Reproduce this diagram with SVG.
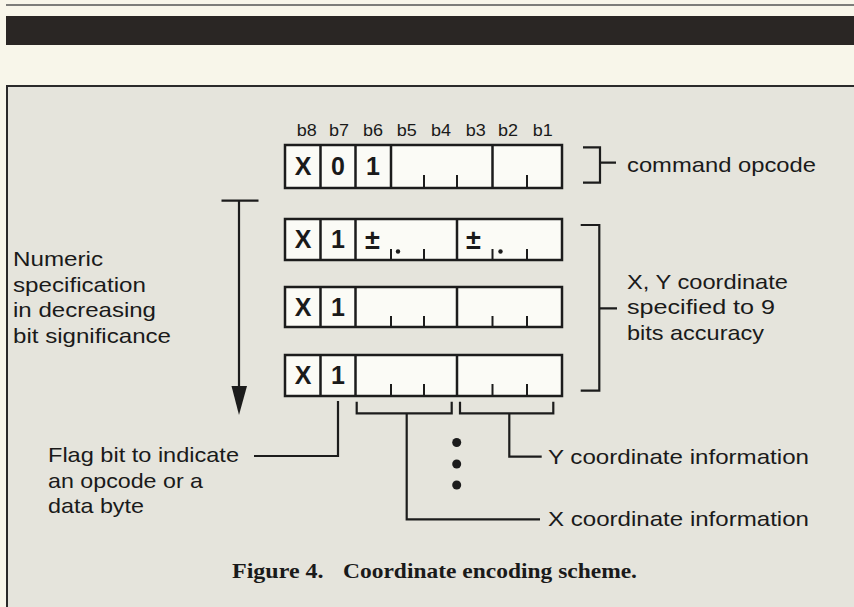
<svg xmlns="http://www.w3.org/2000/svg" width="854" height="607" viewBox="0 0 854 607">
<style>
.sans{font-family:"Liberation Sans",Arial,sans-serif;fill:#1a1a1a;}
.lbl{font-size:21px;}
.bit{font-size:16px;text-anchor:middle;}
.big{font-size:25px;font-weight:bold;text-anchor:middle;}
.pm{font-size:27px;font-weight:bold;}
.cap{font-family:"Liberation Serif","Times New Roman",serif;font-size:21px;font-weight:bold;fill:#1a1a1a;}
.box{fill:#fbfbf6;stroke:#1c1c1c;stroke-width:2.5;}
.div{stroke:#1c1c1c;stroke-width:2.5;fill:none;}
.tick{stroke:#1c1c1c;stroke-width:2;fill:none;}
.ln{stroke:#1c1c1c;stroke-width:2.2;fill:none;}
.head{fill:#1c1c1c;}
</style>
<rect x="0" y="0" width="854" height="607" fill="#f8f6ea"/>
<line x1="6" y1="5" x2="854" y2="5" stroke="#555" stroke-width="1.5"/>
<rect x="6" y="16" width="848" height="29" fill="#2a2624"/>
<rect x="6" y="85" width="848" height="522" fill="#e5e4dc"/>
<path d="M7,607 L7,86 L854,86" stroke="#2a2a2a" stroke-width="2" fill="none"/>

<g id="bit-labels" class="sans bit">
<text x="306.7" y="136" textLength="20" lengthAdjust="spacingAndGlyphs">b8</text>
<text x="339" y="136" textLength="20" lengthAdjust="spacingAndGlyphs">b7</text>
<text x="373" y="136" textLength="20" lengthAdjust="spacingAndGlyphs">b6</text>
<text x="406.7" y="136" textLength="20" lengthAdjust="spacingAndGlyphs">b5</text>
<text x="441" y="136" textLength="20" lengthAdjust="spacingAndGlyphs">b4</text>
<text x="475.7" y="136" textLength="20" lengthAdjust="spacingAndGlyphs">b3</text>
<text x="508" y="136" textLength="20" lengthAdjust="spacingAndGlyphs">b2</text>
<text x="542.7" y="136" textLength="20" lengthAdjust="spacingAndGlyphs">b1</text>
</g>

<g id="row-opcode">
<rect class="box" x="285" y="145" width="277" height="43"/>
<path class="div" d="M320.5,145V188M355.5,145V188M391,145V188M492.5,145V188"/>
<path class="tick" d="M424,175V188M457,175V188M527,175V188"/>
<text class="sans big" x="303" y="175">X</text>
<text class="sans big" x="338" y="175">0</text>
<text class="sans big" x="373" y="175">1</text>
</g>

<g id="row-data1">
<rect class="box" x="285" y="219" width="277" height="41"/>
<path class="div" d="M320.5,219V260M355.5,219V260M457,219V260"/>
<path class="tick" d="M391,249V260M424,249V260M492.5,249V260M527,249V260"/>
<text class="sans big" x="303" y="248">X</text>
<text class="sans big" x="338" y="248">1</text>
<text class="sans pm" x="365" y="249">±</text>
<text class="sans pm" x="466" y="249">±</text>
<circle cx="398" cy="251.5" r="2.2" fill="#1c1c1c"/>
<circle cx="500.5" cy="251.5" r="2.2" fill="#1c1c1c"/>
</g>

<g id="row-data2">
<rect class="box" x="285" y="287" width="277" height="40"/>
<path class="div" d="M320.5,287V327M355.5,287V327M457,287V327"/>
<path class="tick" d="M391,316V327M424,316V327M492.5,316V327M527,316V327"/>
<text class="sans big" x="303" y="316">X</text>
<text class="sans big" x="338" y="316">1</text>
</g>

<g id="row-data3">
<rect class="box" x="285" y="355" width="277" height="41"/>
<path class="div" d="M320.5,355V396M355.5,355V396M457,355V396"/>
<path class="tick" d="M391,384V396M424,384V396M492.5,384V396M527,384V396"/>
<text class="sans big" x="303" y="384">X</text>
<text class="sans big" x="338" y="384">1</text>
</g>

<g id="label-numeric" class="sans lbl">
<text x="13" y="266" textLength="90" lengthAdjust="spacingAndGlyphs">Numeric</text>
<text x="13" y="291.7" textLength="133" lengthAdjust="spacingAndGlyphs">specification</text>
<text x="13" y="317.3" textLength="143" lengthAdjust="spacingAndGlyphs">in decreasing</text>
<text x="13" y="342.7" textLength="158" lengthAdjust="spacingAndGlyphs">bit significance</text>
</g>

<g id="label-opcode" class="sans lbl">
<text x="627" y="171.5" textLength="189" lengthAdjust="spacingAndGlyphs">command opcode</text>
</g>

<g id="label-xy" class="sans lbl">
<text x="627" y="288.5" textLength="161" lengthAdjust="spacingAndGlyphs">X, Y coordinate</text>
<text x="627" y="314" textLength="148" lengthAdjust="spacingAndGlyphs">specified to 9</text>
<text x="627" y="339.5" textLength="137" lengthAdjust="spacingAndGlyphs">bits accuracy</text>
</g>

<g id="label-flag" class="sans lbl">
<text x="48" y="462" textLength="191" lengthAdjust="spacingAndGlyphs">Flag bit to indicate</text>
<text x="48" y="487.5" textLength="155" lengthAdjust="spacingAndGlyphs">an opcode or a</text>
<text x="48" y="513" textLength="96" lengthAdjust="spacingAndGlyphs">data byte</text>
</g>

<g id="label-y" class="sans lbl">
<text x="548" y="463.5" textLength="261" lengthAdjust="spacingAndGlyphs">Y coordinate information</text>
</g>

<g id="label-x" class="sans lbl">
<text x="548" y="526" textLength="261" lengthAdjust="spacingAndGlyphs">X coordinate information</text>
</g>

<g id="ellipsis" fill="#1c1c1c">
<circle cx="456.7" cy="442.5" r="4.5"/>
<circle cx="456.7" cy="464" r="4.5"/>
<circle cx="456.7" cy="485" r="4.5"/>
</g>

<g id="connectors">
<path class="ln" d="M221.5,200.7H258.5"/>
<path class="ln" d="M239,200.7V388"/>
<path class="head" d="M231.5,386L247,386L239,415Z"/>
<path class="ln" d="M583,147.3H600V182.7H583M600,162.7H616"/>
<path class="ln" d="M580.7,225H599.3V390.7H580.7M599.3,308.3H617"/>
<path class="ln" d="M338,401V456H254"/>
<path class="ln" d="M356.7,401.7V413.3H451.7V401.7M406.7,413.3V519.3H540"/>
<path class="ln" d="M460,401.7V413.3H553.3V401.7M509.3,413.3V456.7H541.7"/>
</g>

<g id="caption" class="cap">
<text x="232" y="577.7" textLength="91.6" lengthAdjust="spacingAndGlyphs">Figure 4.</text>
<text x="343" y="577.7" textLength="294" lengthAdjust="spacingAndGlyphs">Coordinate encoding scheme.</text>
</g>
</svg>
